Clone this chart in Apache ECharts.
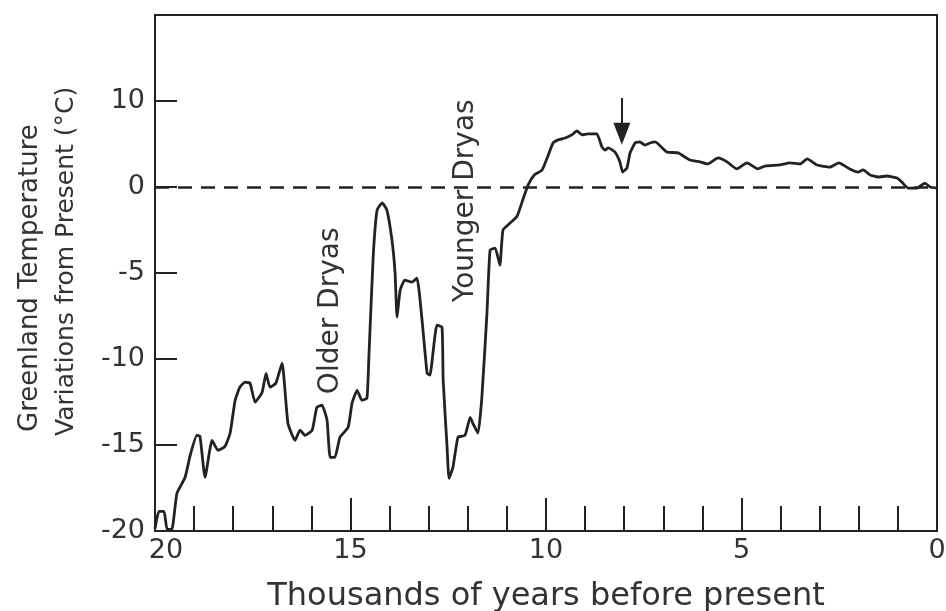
<!DOCTYPE html>
<html>
<head>
<meta charset="utf-8">
<script src="https://cdn.jsdelivr.net/npm/echarts@6/dist/echarts.min.js"></script>
<style>html,body{margin:0;padding:0;background:#fff;overflow:hidden;}#c{width:946px;height:611px;}</style>
</head>
<body>
<div id="c"></div>
<script>
// Years before present (thousands) and temperature readings (axis units)
const years = [20.00,19.90,19.77,19.69,19.57,19.44,19.23,19.10,18.93,18.85,18.72,18.54,18.39,18.21,18.08,17.95,17.83,17.70,17.57,17.44,17.26,17.16,17.06,16.91,16.75,16.60,16.42,16.29,16.16,15.98,15.86,15.73,15.60,15.52,15.40,15.27,15.06,14.96,14.83,14.71,14.58,14.53,14.42,14.32,14.19,14.07,13.94,13.86,13.81,13.73,13.61,13.43,13.30,13.17,13.04,12.97,12.79,12.66,12.63,12.53,12.48,12.38,12.25,12.07,11.94,11.87,11.74,11.64,11.51,11.43,11.30,11.18,11.10,10.92,10.74,10.58,10.45,10.30,10.10,9.97,9.82,9.69,9.51,9.34,9.21,9.08,8.93,8.70,8.57,8.49,8.41,8.24,8.11,8.04,7.93,7.85,7.72,7.60,7.47,7.34,7.21,6.91,6.62,6.32,6.06,5.86,5.60,5.37,5.12,4.86,4.58,4.40,4.02,3.76,3.50,3.32,3.07,2.74,2.51,2.23,2.02,1.89,1.71,1.51,1.28,1.02,0.90,0.74,0.51,0.31,0.18,0.00];
const temps = [-19.85,-18.86,-18.86,-19.91,-19.91,-17.81,-16.88,-15.60,-14.44,-14.49,-16.88,-14.73,-15.31,-15.08,-14.32,-12.40,-11.64,-11.35,-11.41,-12.51,-11.93,-10.83,-11.64,-11.41,-10.24,-13.74,-14.73,-14.14,-14.44,-14.14,-12.81,-12.69,-13.56,-15.72,-15.72,-14.55,-13.97,-12.57,-11.82,-12.40,-12.28,-9.90,-4.07,-1.34,-0.93,-1.34,-3.08,-5.01,-7.57,-6.00,-5.41,-5.53,-5.30,-7.74,-10.83,-10.94,-8.03,-8.15,-11.23,-15.13,-16.94,-16.30,-14.55,-14.44,-13.39,-13.74,-14.32,-12.22,-7.33,-3.67,-3.55,-4.54,-2.50,-2.10,-1.70,-0.65,0.15,0.70,0.99,1.69,2.56,2.74,2.85,3.03,3.26,3.03,3.09,3.09,2.33,2.15,2.27,2.04,1.46,0.87,1.11,1.98,2.56,2.62,2.44,2.56,2.62,2.04,1.98,1.57,1.46,1.34,1.69,1.46,1.05,1.40,1.05,1.22,1.28,1.40,1.34,1.63,1.28,1.16,1.40,1.05,0.87,0.99,0.70,0.58,0.64,0.52,0.29,-0.06,-0.06,0.23,0.00,-0.06];
// Tick labels as printed on the reference
const yTickLabels = {'-20':'-20','-15':'-15','-10':'-10','-5':'-5','0':'0','5':'10'};
const xTickLabels = {'20':'20','15':'15','10':'10','5':'5','0':'0'};
// Annotations: [year, value, text]
const annotations = [[15.5, -7.2, 'Older Dryas'], [12.05, -0.8, 'Younger Dryas']];
const arrowEvent = {year: 8.06, top: 5.18, head: 3.1};

const FONT = 'DejaVu Sans';
const INK = '#222';
const chart = echarts.init(document.getElementById('c'), null, {renderer: 'canvas'});
const lineData = years.map((y, i) => [y, temps[i]]);

chart.setOption({
  animation: false,
  backgroundColor: '#fff',
  grid: {left: 155, right: 9, top: 15, bottom: 80, outerBoundsMode: 'none', containLabel: false,
         show: true, borderColor: INK, borderWidth: 2, backgroundColor: 'transparent'},
  xAxis: {
    type: 'value', min: 0, max: 20, interval: 5, inverse: true,
    axisLine: {show: true, onZero: false, lineStyle: {color: INK, width: 2}},
    axisTick: {show: true, inside: true, length: 33, lineStyle: {color: INK, width: 2}},
    minorTick: {show: true, splitNumber: 5, length: 25, lineStyle: {color: INK, width: 2}},
    splitLine: {show: false}, minorSplitLine: {show: false},
    axisLabel: {
      margin: 6, fontFamily: FONT, fontSize: 27, color: '#333',
      formatter: v => v === 20 ? '{m|' + xTickLabels[v] + '}' : (xTickLabels[String(v)] || ''),
      rich: {m: {fontFamily: FONT, fontSize: 27, color: '#333', padding: [0, 0, 0, 22]}}
    },
    name: 'Thousands of years before present', nameLocation: 'middle', nameGap: 50,
    nameTextStyle: {fontFamily: FONT, fontSize: 32, color: '#333'}
  },
  yAxis: {
    type: 'value', min: -20, max: 10, interval: 5,
    axisLine: {show: true, onZero: false, lineStyle: {color: INK, width: 2}},
    axisTick: {show: true, inside: true, length: 22, lineStyle: {color: INK, width: 2}},
    splitLine: {show: false},
    axisLabel: {margin: 10, fontFamily: FONT, fontSize: 27, color: '#333',
      formatter: v => yTickLabels[String(v)] || ''}
  },
  graphic: [
    {type: 'text', x: 30, y: 432, rotation: Math.PI / 2,
     style: {text: 'Greenland Temperature', fontFamily: FONT, fontSize: 26, fill: '#333', textAlign: 'left', textVerticalAlign: 'middle'}},
    {type: 'text', x: 66, y: 436, rotation: Math.PI / 2,
     style: {text: 'Variations from Present (°C)', fontFamily: FONT, fontSize: 25, fill: '#333', textAlign: 'left', textVerticalAlign: 'middle'}}
  ],
  series: [{
    type: 'line', data: lineData, showSymbol: false, smooth: 0.15,
    lineStyle: {color: INK, width: 2.8}, z: 3,
    markLine: {
      silent: true, animation: false,
      data: [
        [{coord: [20, 0], symbol: 'none'}, {coord: [0, 0], symbol: 'none'}],
        [{coord: [arrowEvent.year, arrowEvent.top], symbol: 'none', lineStyle: {type: 'solid', width: 2}},
         {coord: [arrowEvent.year, arrowEvent.head], symbol: 'triangle', symbolSize: [17, 22], symbolRotate: 180}]
      ],
      lineStyle: {color: INK, width: 2.6, type: [14, 9]},
      label: {show: false}
    },
    markPoint: {
      silent: true, symbol: 'circle', symbolSize: 0,
      data: annotations.map(a => ({coord: [a[0], a[1]], value: a[2]})),
      label: {show: true, rotate: 90, formatter: p => p.value, fontFamily: FONT, fontSize: 28, color: '#333', position: 'inside'}
    }
  }]
});
</script>
</body>
</html>
